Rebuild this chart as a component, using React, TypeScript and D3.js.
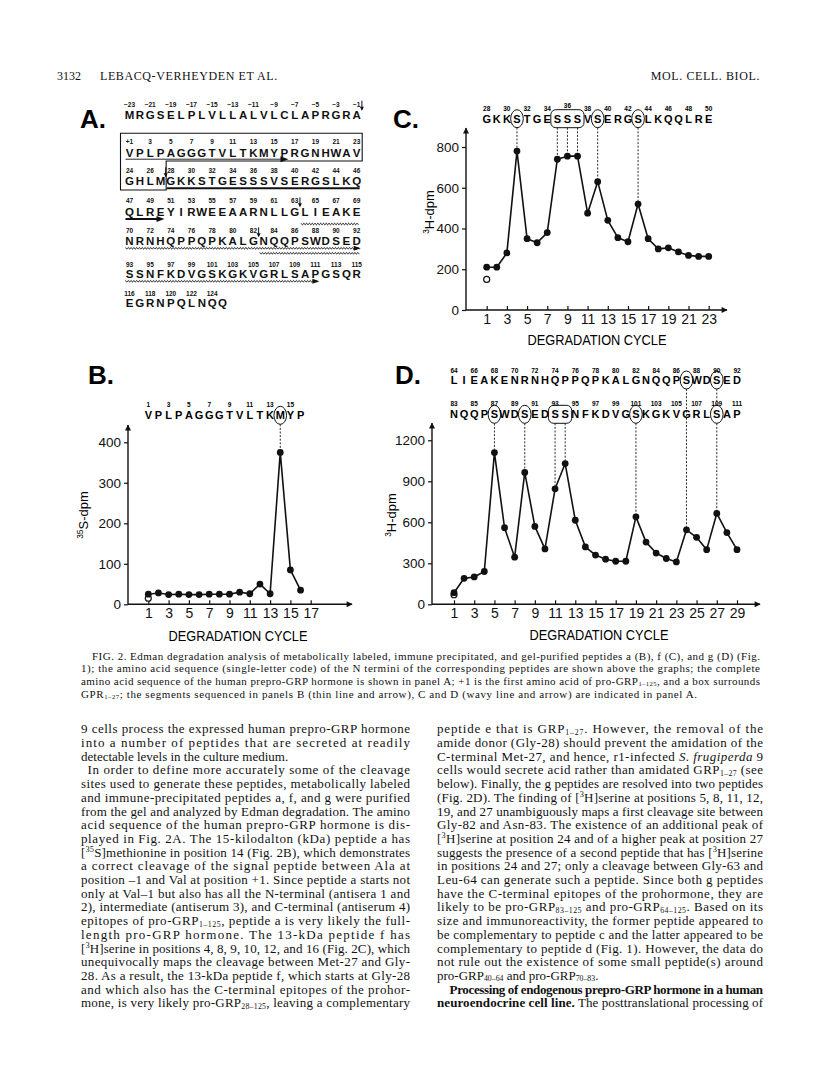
import React, { useEffect, useRef } from "react";
import * as d3 from "d3";

// ---- panel A: prepro-GRP, one string per printed row ----
const seqRowStart = [-23, 1, 24, 47, 70, 93, 116];
const seqRows = [
  "MRGSELPLVLLALVLCLAPRGRA",
  "VPLPAGGGTVLTKMYPRGNHWAV",
  "GHLMGKKSTGESSSVSERGSLKQ",
  "QLREYIRWEEAARNLLGLIEAKE",
  "NRNHQPPQPKALGNQQPSWDSED",
  "SSNFKDVGSKGKVGRLSAPGSQR",
  "EGRNPQLNQQ",
];
const cutAfter = [-1, 27, 63, 82];
const sequencedSegments = [
  { from: 1, to: 16, kind: "thin" },
  { from: 28, to: 50, kind: "thick" },
  { from: 64, to: 92, kind: "wavy" },
  { from: 83, to: 111, kind: "wavy" },
];

// ---- panel B: peptide a ----
const seqB = "VPLPAGGGTVLTKMYP";
const seqBStart = 1;
const circledB = [14];
const dpmB = [25, 28, 24, 25, 24, 24, 25, 25, 25, 30, 26, 50, 26, 375, 85, 35];
const blankB = 15;
const yTicksB = [0, 100, 200, 300, 400];
const xTicksB = [1, 3, 5, 7, 9, 11, 13, 15, 17];

// ---- panel C: peptide f ----
const seqC = "GKKSTGESSSVSERGSLKQQLRE";
const seqCStart = 28;
const circledC = [4, 12, 16];
const boxedC = [[8, 10]];
const dpmC = [210, 210, 280, 780, 350, 330, 380, 740, 755, 755, 475, 630, 440, 355, 335, 520, 350, 300, 305, 285, 268, 263, 263];
const blankC = 150;
const yTicksC = [0, 200, 400, 600, 800];
const xTicksC = [1, 3, 5, 7, 9, 11, 13, 15, 17, 19, 21, 23];

// ---- panel D: peptides g ----
const seqD1 = "LIEAKENRNHQPPQPKALGNQQPSWDSED";
const seqD1Start = 64;
const seqD2 = "NQQPSWDSEDSSNFKDVGSKGKVGRLSAP";
const seqD2Start = 83;
const circledD1 = [24, 27];
const circledD2 = [5, 8, 19, 27];
const boxedD2 = [[11, 12]];
const dpmD = [85, 190, 200, 240, 1110, 560, 345, 965, 570, 405, 845, 1030, 615, 420, 360, 330, 315, 315, 640, 455, 375, 335, 310, 545, 490, 400, 665, 525, 400];
const blankD = 70;
const yTicksD = [0, 300, 600, 900, 1200];
const xTicksD = [1, 3, 5, 7, 9, 11, 13, 15, 17, 19, 21, 23, 25, 27, 29];

// ---- page text ----
const captionLines = [
  "FIG. 2. Edman degradation analysis of metabolically labeled, immune precipitated, and gel-purified peptides a (B), f (C), and g (D) (Fig.",
  "1); the amino acid sequence (single-letter code) of the N termini of the corresponding peptides are shown above the graphs; the complete",
  "amino acid sequence of the human prepro-GRP hormone is shown in panel A; +1 is the first amino acid of pro-GRP_{1–125}, and a box surrounds",
  "GPR_{1–27}; the segments sequenced in panels B (thin line and arrow), C and D (wavy line and arrow) are indicated in panel A.",
];
// "|" = paragraph indent, trailing "¬" = last line of paragraph (not justified)
const leftColumn = [
  "9 cells process the expressed human prepro-GRP hormone",
  "into a number of peptides that are secreted at readily",
  "detectable levels in the culture medium.¬",
  "|In order to define more accurately some of the cleavage",
  "sites used to generate these peptides, metabolically labeled",
  "and immune-precipitated peptides a, f, and g were purified",
  "from the gel and analyzed by Edman degradation. The amino",
  "acid sequence of the human prepro-GRP hormone is dis-",
  "played in Fig. 2A. The 15-kilodalton (kDa) peptide a has",
  "[^{35}S]methionine in position 14 (Fig. 2B), which demonstrates",
  "a correct cleavage of the signal peptide between Ala at",
  "position –1 and Val at position +1. Since peptide a starts not",
  "only at Val–1 but also has all the N-terminal (antisera 1 and",
  "2), intermediate (antiserum 3), and C-terminal (antiserum 4)",
  "epitopes of pro-GRP_{1–125}, peptide a is very likely the full-",
  "length pro-GRP hormone. The 13-kDa peptide f has",
  "[^{3}H]serine in positions 4, 8, 9, 10, 12, and 16 (Fig. 2C), which",
  "unequivocally maps the cleavage between Met-27 and Gly-",
  "28. As a result, the 13-kDa peptide f, which starts at Gly-28",
  "and which also has the C-terminal epitopes of the prohor-",
  "mone, is very likely pro-GRP_{28–125}, leaving a complementary",
];
const rightColumn = [
  "peptide e that is GRP_{1–27}. However, the removal of the",
  "amide donor (Gly-28) should prevent the amidation of the",
  "C-terminal Met-27, and hence, r1-infected ~S. frugiperda~ 9",
  "cells would secrete acid rather than amidated GRP_{1–27} (see",
  "below). Finally, the g peptides are resolved into two peptides",
  "(Fig. 2D). The finding of [^{3}H]serine at positions 5, 8, 11, 12,",
  "19, and 27 unambiguously maps a first cleavage site between",
  "Gly-82 and Asn-83. The existence of an additional peak of",
  "[^{3}H]serine at position 24 and of a higher peak at position 27",
  "suggests the presence of a second peptide that has [^{3}H]serine",
  "in positions 24 and 27; only a cleavage between Gly-63 and",
  "Leu-64 can generate such a peptide. Since both g peptides",
  "have the C-terminal epitopes of the prohormone, they are",
  "likely to be pro-GRP_{83–125} and pro-GRP_{64–125}. Based on its",
  "size and immunoreactivity, the former peptide appeared to",
  "be complementary to peptide c and the latter appeared to be",
  "complementary to peptide d (Fig. 1). However, the data do",
  "not rule out the existence of some small peptide(s) around",
  "pro-GRP_{40–64} and pro-GRP_{70–83}.¬",
  "|*Processing of endogenous prepro-GRP hormone in a human*",
  "*neuroendocrine cell line.* The posttranslational processing of",
];

const SANS = "'Liberation Sans', Arial, Helvetica, sans-serif";
const SERIF = "'Liberation Serif', 'Times New Roman', serif";

// rich text: ^{sup} _{sub} *bold* ~italic~
function addRich(sel, str, size) {
  const parts = str.split(/(\^\{[^}]*\}|_\{[^}]*\}|\*|~)/).filter(p => p !== "");
  let bold = false, ital = false, pending = 0;
  parts.forEach(p => {
    if (p === "*") { bold = !bold; return; }
    if (p === "~") { ital = !ital; return; }
    let txt = p, shift = 0, fs = size;
    if (p.startsWith("^{")) { txt = p.slice(2, -1); shift = -size * 0.36; fs = size * 0.64; }
    else if (p.startsWith("_{")) { txt = p.slice(2, -1); shift = size * 0.12; fs = size * 0.6; }
    const ts = sel.append("tspan").attr("font-size", fs).text(txt);
    if (bold) ts.attr("font-weight", "bold");
    if (ital) ts.attr("font-style", "italic");
    const dy = pending + shift;
    if (dy !== 0) ts.attr("dy", dy);
    pending = -shift;
  });
}

function drawSequenceRow(g, x, row) {
  const letters = row.seq.split("");
  letters.forEach((ch, i) => {
    const c = i + 1;
    g.append("text")
      .attr("x", x(c)).attr("y", row.letterY)
      .attr("text-anchor", "middle")
      .attr("font-family", SANS).attr("font-size", 11).attr("font-weight", "bold")
      .text(ch);
    if (i % 2 === 0) {
      g.append("text")
        .attr("x", x(c)).attr("y", row.numY - (row.lift && row.lift(c) ? 3 : 0))
        .attr("text-anchor", "middle")
        .attr("font-family", SANS).attr("font-size", 6.5).attr("font-weight", "bold")
        .text(row.start + i);
    }
  });
  const cy = row.letterY - 4;
  (row.circled || []).forEach(c => {
    g.append("ellipse").attr("cx", x(c)).attr("cy", cy).attr("rx", 6.3).attr("ry", 9)
      .attr("fill", "none").attr("stroke", "#111").attr("stroke-width", 1);
  });
  (row.boxed || []).forEach(([a, b]) => {
    g.append("rect").attr("x", x(a) - 6.5).attr("y", cy - 9).attr("width", x(b) - x(a) + 13).attr("height", 18)
      .attr("rx", 5).attr("fill", "none").attr("stroke", "#111").attr("stroke-width", 1);
  });
}

function drawPanel(svg, o) {
  const g = svg.append("g");
  const { x, y } = o;
  const y0 = y(0);

  // sequence above graph
  o.rows.forEach(r => drawSequenceRow(g, x, r));

  // dashed guides from marked residues down to peaks
  const marked = new Set();
  o.rows.forEach(r => {
    (r.circled || []).forEach(c => marked.add(c));
    (r.boxed || []).forEach(([a, b]) => d3.range(a, b + 1).forEach(c => marked.add(c)));
  });
  marked.forEach(c => {
    const hits = o.rows.filter(r =>
      (r.circled || []).includes(c) || (r.boxed || []).some(([a, b]) => c >= a && c <= b));
    const stops = hits.map(r => [r.letterY - 13, r.letterY + 5]);
    for (let k = 0; k < stops.length; k++) {
      const yStart = stops[k][1];
      const yEnd = k < stops.length - 1 ? stops[k + 1][0] : y(o.values[c - 1]) - 3;
      g.append("line").attr("x1", x(c)).attr("x2", x(c)).attr("y1", yStart).attr("y2", yEnd)
        .attr("stroke", "#111").attr("stroke-width", 0.9).attr("stroke-dasharray", "2,1.6");
    }
  });

  // axes lines with arrows
  g.append("line").attr("x1", o.x0).attr("x2", o.x0).attr("y1", y0).attr("y2", o.top)
    .attr("stroke", "#111").attr("stroke-width", 1.4).attr("marker-end", "url(#arr)");
  g.append("line").attr("x1", o.x0).attr("x2", o.right).attr("y1", y0).attr("y2", y0)
    .attr("stroke", "#111").attr("stroke-width", 1.4).attr("marker-end", "url(#arr)");

  const yAxis = g.append("g").attr("transform", `translate(${o.x0},0)`)
    .call(d3.axisLeft(y).tickValues(o.yTicks).tickFormat(d3.format("d")).tickSize(4).tickPadding(3));
  yAxis.select(".domain").remove();
  yAxis.attr("font-family", SANS).attr("font-size", 13.5);
  yAxis.selectAll("line").attr("stroke", "#111").attr("stroke-width", 1.2);
  yAxis.selectAll("text").attr("fill", "#111");

  const xAxis = g.append("g").attr("transform", `translate(0,${y0})`)
    .call(d3.axisBottom(x).tickValues(o.xTicks).tickSizeInner(-4).tickSizeOuter(0).tickPadding(4));
  xAxis.select(".domain").remove();
  xAxis.attr("font-family", SANS).attr("font-size", 14);
  xAxis.selectAll("line").attr("stroke", "#111").attr("stroke-width", 1.2);
  xAxis.selectAll("text").attr("fill", "#111");

  g.append("text")
    .attr("x", o.xLabelX).attr("y", o.xLabelY)
    .attr("text-anchor", "middle").attr("font-family", SANS).attr("font-size", 14)
    .attr("textLength", 139).attr("lengthAdjust", "spacingAndGlyphs")
    .text("DEGRADATION CYCLE");

  const yl = g.append("text")
    .attr("transform", `translate(${o.yLabelX},${o.yLabelY}) rotate(-90)`)
    .attr("text-anchor", "middle").attr("font-family", SANS);
  addRich(yl, o.yLabel, 13);

  // data
  const line = d3.line().x((d, i) => x(i + 1)).y(d => y(d));
  g.append("path").datum(o.values).attr("d", line)
    .attr("fill", "none").attr("stroke", "#111").attr("stroke-width", 1.6).attr("stroke-linejoin", "round");
  g.append("circle").attr("cx", x(1)).attr("cy", y(o.blank)).attr("r", 3)
    .attr("fill", "#fff").attr("stroke", "#111").attr("stroke-width", 1.2);
  g.selectAll(null).data(o.values).enter().append("circle")
    .attr("cx", (d, i) => x(i + 1)).attr("cy", d => y(d)).attr("r", 3.4).attr("fill", "#111");
}

export default function App() {
  const ref = useRef(null);

  useEffect(() => {
    const svg = d3.select(ref.current);
    svg.selectAll("*").remove();

    const defs = svg.append("defs");
    defs.append("marker").attr("id", "arr").attr("viewBox", "0 0 10 10")
      .attr("refX", 9).attr("refY", 5).attr("markerWidth", 8).attr("markerHeight", 6)
      .attr("markerUnits", "userSpaceOnUse").attr("orient", "auto")
      .append("path").attr("d", "M0,0L10,5L0,10z").attr("fill", "#111");

    // 1. running head
    const head = svg.append("g").attr("font-family", SERIF).attr("font-size", 12).attr("fill", "#111");
    head.append("text").attr("x", 57).attr("y", 80).text("3132");
    head.append("text").attr("x", 100).attr("y", 80).attr("letter-spacing", 0.6).text("LEBACQ-VERHEYDEN ET AL.");
    head.append("text").attr("x", 760).attr("y", 80).attr("text-anchor", "end").attr("letter-spacing", 0.6).text("MOL. CELL. BIOL.");

    // 2. panel letters
    [["A.", 80, 128], ["C.", 393, 128], ["B.", 88, 384], ["D.", 395, 384]].forEach(([t, px, py]) => {
      svg.append("text").attr("x", px).attr("y", py).attr("font-family", SANS)
        .attr("font-size", 26).attr("font-weight", "bold").text(t);
    });

    // 3. panel A sequence
    const aLetterY = [119.3, 156.7, 185.3, 216, 245.3, 278.3, 306.7];
    const aNumY = [106.7, 144.3, 173.3, 203.3, 233.3, 266.7, 295.7];
    const xA = d3.scaleLinear().domain([0, 22]).range([129.5, 356.7]);
    const locate = r => {
      const row = seqRowStart.findIndex((s, i) => r >= s && r < s + seqRows[i].length);
      return { row, idx: r - seqRowStart[row] };
    };
    const gA = svg.append("g").attr("font-family", SANS).attr("fill", "#111");
    seqRows.forEach((seq, ri) => {
      seq.split("").forEach((ch, i) => {
        gA.append("text").attr("x", xA(i)).attr("y", aLetterY[ri]).attr("text-anchor", "middle")
          .attr("font-size", 11.5).attr("font-weight", "bold").text(ch);
        if (i % 2 === 0) {
          const n = seqRowStart[ri] + i;
          gA.append("text").attr("x", xA(i)).attr("y", aNumY[ri]).attr("text-anchor", "middle")
            .attr("font-size", 6.5).attr("font-weight", "bold")
            .text(n < 0 ? `−${-n}` : n === 1 ? "+1" : n);
        }
      });
    });
    // box around GRP 1-27
    const bx0 = xA(0) - 9, bx1 = xA(22) + 5.5, bxStep = xA(3.55);
    gA.append("path")
      .attr("d", `M${bx0},133.3H${bx1}V161H${bxStep}V190H${bx0}Z`)
      .attr("fill", "none").attr("stroke", "#111").attr("stroke-width", 1.1);
    // cleavage arrows
    cutAfter.forEach(r => {
      const { row, idx } = locate(r);
      const cx = xA(idx) + 5.2;
      gA.append("line").attr("x1", cx).attr("x2", cx).attr("y1", aNumY[row] - 6).attr("y2", aNumY[row] + 3)
        .attr("stroke", "#111").attr("stroke-width", 1);
      gA.append("path").attr("d", `M${cx - 2},${aNumY[row]}L${cx + 2},${aNumY[row]}L${cx},${aNumY[row] + 4}Z`)
        .attr("fill", "#111");
    });
    // sequenced segments
    const rowLanes = {};
    sequencedSegments.forEach(seg => {
      const a = locate(seg.from), b = locate(seg.to);
      for (let ri = a.row; ri <= b.row; ri++) {
        const i0 = ri === a.row ? a.idx : 0;
        const i1 = ri === b.row ? b.idx : seqRows[ri].length - 1;
        const lane = rowLanes[ri] || 0;
        rowLanes[ri] = lane + 1;
        const last = ri === b.row;
        const x1 = xA(i0) - 4, x2 = xA(i1) + 3;
        if (seg.kind === "wavy") {
          const ly = aLetterY[ri] + 3 + lane * 5;
          const pts = d3.range(x1, x2, 1.4).map((px, k) => [px, ly + (k % 2 ? 0.9 : -0.9)]);
          gA.append("path").attr("d", d3.line().curve(d3.curveCatmullRom)(pts))
            .attr("fill", "none").attr("stroke", "#111").attr("stroke-width", 0.9);
          if (last) gA.append("path").attr("d", `M${x2 - 6},${ly - 2.5}L${x2 + 1},${ly}L${x2 - 6},${ly + 2.5}Z`).attr("fill", "#111");
        } else {
          const ly = aLetterY[ri] + (seg.kind === "thin" ? 2.5 : 3);
          const w = seg.kind === "thin" ? 0.9 : 2;
          const end = last ? x2 - 4 : x2;
          gA.append("line").attr("x1", x1).attr("x2", end).attr("y1", ly).attr("y2", ly)
            .attr("stroke", "#111").attr("stroke-width", w);
          if (last) gA.append("path").attr("d", `M${x2 - 7},${ly - 3}L${x2 + 1},${ly}L${x2 - 7},${ly + 3}Z`).attr("fill", "#111");
        }
      }
    });

    // 4. panels B, C, D
    drawPanel(svg, {
      values: dpmB, blank: blankB,
      x: d3.scaleLinear().domain([1, 17]).range([148.3, 310.7]),
      y: d3.scaleLinear().domain([0, 400]).range([604.3, 442.3]),
      x0: 128, top: 425, right: 352, yTicks: yTicksB, xTicks: xTicksB,
      yLabel: "^{35}S-dpm", yLabelX: 88, yLabelY: 515, xLabelX: 238, xLabelY: 640.7,
      rows: [{ seq: seqB, start: seqBStart, numY: 407.3, letterY: 419.3, circled: circledB }],
    });
    drawPanel(svg, {
      values: dpmC, blank: blankC,
      x: d3.scaleLinear().domain([1, 23]).range([486.7, 708.7]),
      y: d3.scaleLinear().domain([0, 800]).range([310, 147]),
      x0: 466, top: 128, right: 727, yTicks: yTicksC, xTicks: xTicksC,
      yLabel: "^{3}H-dpm", yLabelX: 434, yLabelY: 212, xLabelX: 597, xLabelY: 345,
      rows: [{ seq: seqC, start: seqCStart, numY: 110.7, letterY: 122.7, circled: circledC, boxed: boxedC, lift: c => c === 9 }],
    });
    drawPanel(svg, {
      values: dpmD, blank: blankD,
      x: d3.scaleLinear().domain([1, 29]).range([454, 737]),
      y: d3.scaleLinear().domain([0, 1200]).range([604.3, 440.3]),
      x0: 432, top: 423, right: 760, yTicks: yTicksD, xTicks: xTicksD,
      yLabel: "^{3}H-dpm", yLabelX: 396, yLabelY: 515, xLabelX: 599, xLabelY: 640,
      rows: [
        { seq: seqD1, start: seqD1Start, numY: 372.7, letterY: 384, circled: circledD1 },
        { seq: seqD2, start: seqD2Start, numY: 406, letterY: 418.3, circled: circledD2, boxed: boxedD2 },
      ],
    });

    // 5. caption
    const cap = svg.append("g").attr("font-family", SERIF).attr("fill", "#111");
    captionLines.forEach((t, i) => {
      const lx = i === 0 ? 92 : 81;
      const tx = cap.append("text").attr("x", lx).attr("y", 659.5 + i * 12.7).attr("font-size", 11)
        .attr("textLength", i === 3 ? 616 : 760 - lx).attr("lengthAdjust", "spacing");
      addRich(tx, t, 11);
    });

    // 6. body columns
    const body = svg.append("g").attr("font-family", SERIF).attr("fill", "#111");
    const drawColumn = (lines, left, right, indent) => {
      lines.forEach((raw, i) => {
        let t = raw, ind = 0, just = true;
        if (t.startsWith("|")) { t = t.slice(1); ind = indent; }
        if (t.endsWith("¬")) { t = t.slice(0, -1); just = false; }
        const tx = body.append("text").attr("x", left + ind).attr("y", 733.3 + i * 13.7).attr("font-size", 13);
        if (just) tx.attr("textLength", right - left - ind).attr("lengthAdjust", "spacing");
        addRich(tx, t, 13);
      });
    };
    drawColumn(leftColumn, 81, 410, 6.5);
    drawColumn(rightColumn, 437, 763, 12.6);
  }, []);

  return (
    <div style={{ position: "absolute", left: 0, top: 0 }}>
      <svg ref={ref} width={816} height={1081} style={{ display: "block", background: "#fff" }} />
    </div>
  );
}
